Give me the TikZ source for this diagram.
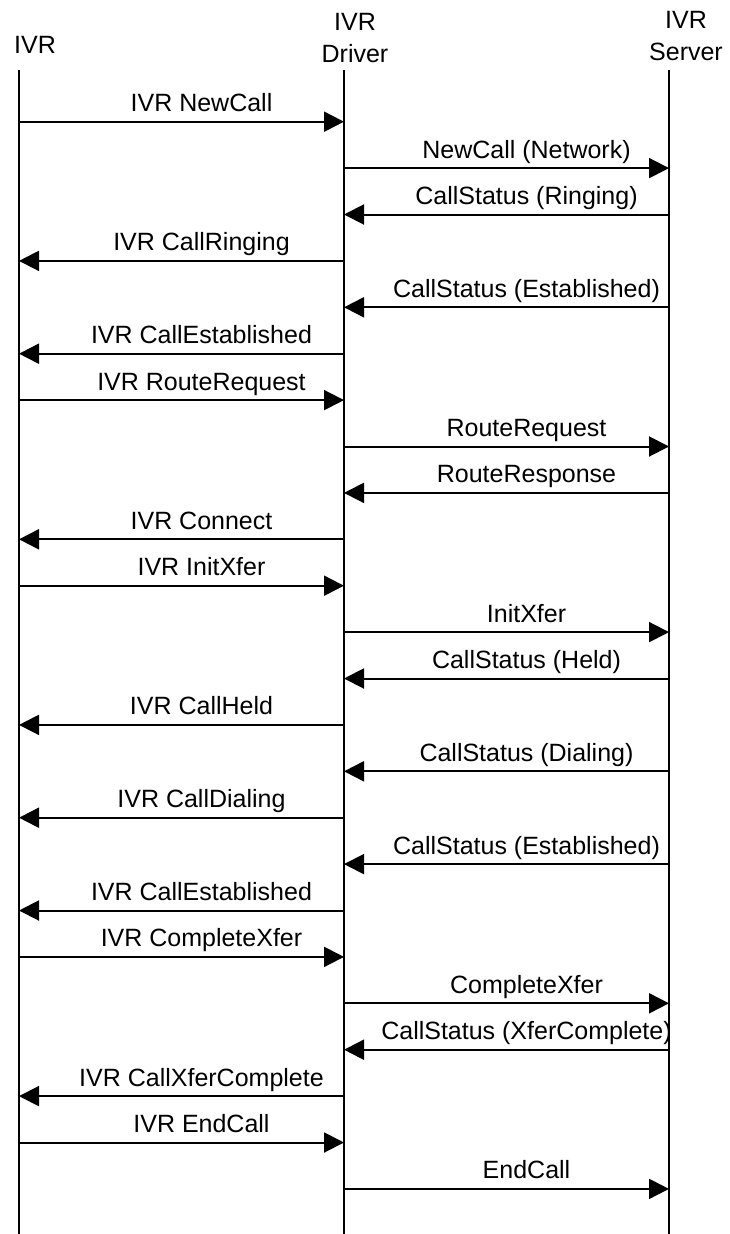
\documentclass[tikz,border=0pt]{standalone}
\usepackage{fontspec}
\setmainfont{Liberation Sans}
\usetikzlibrary{arrows.meta}

\tikzset{
  msg/.style={line width=2pt,-{Triangle[length=20pt,width=20pt]}},
  lifeline/.style={line width=2pt},
  lbl/.style={midway,anchor=base,inner sep=0pt,xshift=20pt,yshift=10pt},
  head/.style={anchor=base,inner sep=0pt,align=center}
}

\begin{document}
\begin{tikzpicture}[x=1pt,y=-1pt,font=\fontsize{25}{32}\selectfont]
  \useasboundingbox (0,0) rectangle (730,1234);

  % Headers
  \node[head] (ivrhead) at (35,53) {IVR};
  \node[head] (drvhead) at (355,62) {IVR\\Driver};
  \node[head] (srvhead) at (686,60) {IVR\\Server};

  % Lifelines
  \coordinate (ivrtop) at (19,70);   \coordinate (ivrbot) at (19,1234);
  \coordinate (drvtop) at (344,70);  \coordinate (drvbot) at (344,1234);
  \coordinate (srvtop) at (669,70);  \coordinate (srvbot) at (669,1234);
  \draw[lifeline] (ivrtop) -- (ivrbot);
  \draw[lifeline] (drvtop) -- (drvbot);
  \draw[lifeline] (srvtop) -- (srvbot);

  % message rows
  \foreach \i in {1,...,24} {
    \coordinate (ivr\i) at (19,{121.7+46.4*(\i-1)});
    \coordinate (drv\i) at (344,{121.7+46.4*(\i-1)});
    \coordinate (srv\i) at (669,{121.7+46.4*(\i-1)});
  }

  % Call setup
  \draw[msg] (ivr1) -- node[lbl] {IVR NewCall} (drv1);
  \draw[msg] (drv2) -- node[lbl] {NewCall (Network)} (srv2);
  \draw[msg] (srv3) -- node[lbl] {CallStatus (Ringing)} (drv3);
  \draw[msg] (drv4) -- node[lbl] {IVR CallRinging} (ivr4);
  \draw[msg] (srv5) -- node[lbl] {CallStatus (Established)} (drv5);
  \draw[msg] (drv6) -- node[lbl] {IVR CallEstablished} (ivr6);

  % Routing
  \draw[msg] (ivr7) -- node[lbl] {IVR RouteRequest} (drv7);
  \draw[msg] (drv8) -- node[lbl] {RouteRequest} (srv8);
  \draw[msg] (srv9) -- node[lbl] {RouteResponse} (drv9);
  \draw[msg] (drv10) -- node[lbl] {IVR Connect} (ivr10);

  % Transfer
  \draw[msg] (ivr11) -- node[lbl] {IVR InitXfer} (drv11);
  \draw[msg] (drv12) -- node[lbl] {InitXfer} (srv12);
  \draw[msg] (srv13) -- node[lbl] {CallStatus (Held)} (drv13);
  \draw[msg] (drv14) -- node[lbl] {IVR CallHeld} (ivr14);
  \draw[msg] (srv15) -- node[lbl] {CallStatus (Dialing)} (drv15);
  \draw[msg] (drv16) -- node[lbl] {IVR CallDialing} (ivr16);
  \draw[msg] (srv17) -- node[lbl] {CallStatus (Established)} (drv17);
  \draw[msg] (drv18) -- node[lbl] {IVR CallEstablished} (ivr18);
  \draw[msg] (ivr19) -- node[lbl] {IVR CompleteXfer} (drv19);
  \draw[msg] (drv20) -- node[lbl] {CompleteXfer} (srv20);
  \draw[msg] (srv21) -- node[lbl] {CallStatus (XferComplete)} (drv21);
  \draw[msg] (drv22) -- node[lbl] {IVR CallXferComplete} (ivr22);

  % Release
  \draw[msg] (ivr23) -- node[lbl] {IVR EndCall} (drv23);
  \draw[msg] (drv24) -- node[lbl] {EndCall} (srv24);
\end{tikzpicture}
\end{document}
